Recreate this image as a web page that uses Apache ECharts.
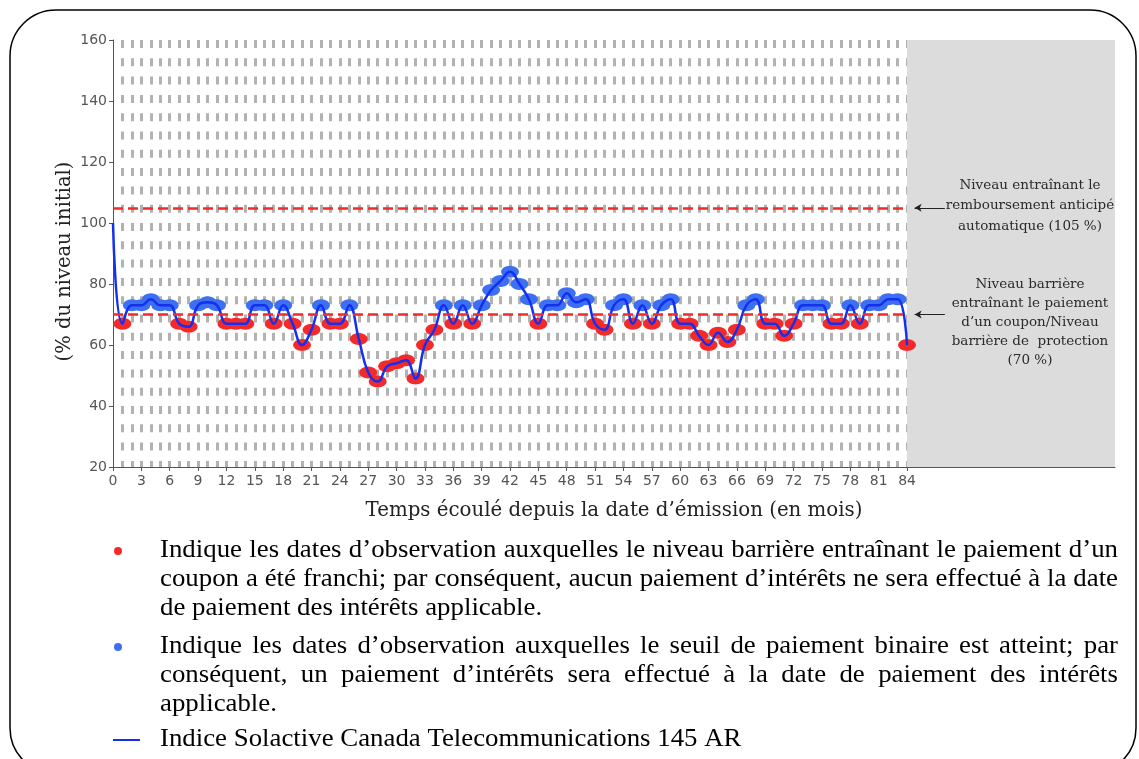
<!DOCTYPE html>
<html><head><meta charset="utf-8">
<script src="https://cdn.jsdelivr.net/npm/echarts@6/dist/echarts.min.js"></script>
<style>html,body{margin:0;padding:0;background:#fff}#c{width:1139px;height:759px}</style>
</head><body><div id="c"></div>
<script>
// ---- data ----
const months = [0,1,2,3,4,5,6,7,8,9,10,11,12,13,14,15,16,17,18,19,20,21,22,23,24,25,26,27,28,29,30,31,32,33,34,35,36,37,38,39,40,41,42,43,44,45,46,47,48,49,50,51,52,53,54,55,56,57,58,59,60,61,62,63,64,65,66,67,68,69,70,71,72,73,74,75,76,77,78,79,80,81,82,83,84];
const indexLevel = [100,
  67,73,73,75,73,73,67,66,73,74,
  73,67,67,67,73,73,67,73,67,60,
  65,73,67,67,73,62,51,48,53,54,
  55,49,60,65,73,67,73,67,73,78,
  81,84,80,75,67,73,73,77,74,75,
  67,65,73,75,67,73,67,73,75,67,
  67,63,60,64,61,65,73,75,67,67,
  63,67,73,73,73,67,67,73,67,73,
  73,75,75,60];
const autocallLevel = 105;
const barrierLevel = 70;
const xTickLabels = [0,3,6,9,12,15,18,21,24,27,30,33,36,39,42,45,48,51,54,57,60,63,66,69,72,75,78,81,84];
const yTickLabels = [20,40,60,80,100,120,140,160];
const xTitle = "Temps écoulé depuis la date d’émission (en mois)";
const yTitle = "(% du niveau initial)";
const note1 = ["Niveau entraînant le","remboursement anticipé","automatique (105 %)"];
const note2 = ["Niveau barrière","entraînant le paiement","d’un coupon/Niveau","barrière de  protection","(70 %)"];
const legendRed = ["Indique les dates d’observation auxquelles le niveau barrière entraînant le paiement d’un",
  "coupon a été franchi; par conséquent, aucun paiement d’intérêts ne sera effectué à la date",
  "de paiement des intérêts applicable."];
const legendBlue = ["Indique les dates d’observation auxquelles le seuil de paiement binaire est atteint; par",
  "conséquent, un paiement d’intérêts sera effectué à la date de paiement des intérêts",
  "applicable."];
const legendLine = "Indice Solactive Canada Telecommunications 145 AR";

// ---- derived ----
const linePts = months.map((m,i)=>[m, indexLevel[i]]);
const redPts = [], bluePts = [];
months.forEach((m,i)=>{ if(m===0) return; (indexLevel[i] < barrierLevel ? redPts : bluePts).push([m, indexLevel[i]]); });

const RED = '#f42a2a', BLUE = '#3d6ff2', LINE = '#1430ee';
const serifChart = '"DejaVu Serif", serif';
const FS = 24.5, SX = 1.095;
const legFont = FS + 'px "Liberation Serif"';
const mctx = document.createElement('canvas').getContext('2d');
mctx.font = legFont;

function textLine(str, x, y, justifyTo) {
  const els = [];
  if (!justifyTo) {
    els.push({type:'text', x, y, scaleX:SX, style:{text:str, font:legFont, fill:'#000', textVerticalAlign:'middle'}});
    return els;
  }
  const words = str.split(' ');
  const w = words.map(s=>mctx.measureText(s).width*SX);
  const tot = w.reduce((a,b)=>a+b,0);
  const gap = (justifyTo - x - tot)/(words.length-1);
  let cx = x;
  words.forEach((s,i)=>{
    els.push({type:'text', x:cx, y, scaleX:SX, style:{text:s, font:legFont, fill:'#000', textVerticalAlign:'middle'}});
    cx += w[i]+gap;
  });
  return els;
}

const graphics = [];
graphics.push({type:'rect', shape:{x:10,y:10,width:1126,height:764,r:46}, style:{fill:'none', stroke:'#000', lineWidth:1.5}, z:0});
note1.forEach((t,i)=>graphics.push({type:'text', x:1030, y:185+i*20.5, style:{text:t, font:'13.5px '+serifChart, fill:'#2a2a2a', textAlign:'center', textVerticalAlign:'middle'}, z:10}));
note2.forEach((t,i)=>graphics.push({type:'text', x:1030, y:284+i*19.2, style:{text:t, font:'13.5px '+serifChart, fill:'#2a2a2a', textAlign:'center', textVerticalAlign:'middle'}, z:10}));
const L0 = 160, L1 = 1118;
graphics.push({type:'circle', shape:{cx:118, cy:551, r:4}, style:{fill:RED}});
legendRed.forEach((t,i)=>textLine(t, L0, 551+i*28.6, i<legendRed.length-1 ? L1 : 0).forEach(e=>graphics.push(e)));
graphics.push({type:'circle', shape:{cx:118, cy:647, r:4}, style:{fill:BLUE}});
legendBlue.forEach((t,i)=>textLine(t, L0, 647+i*28.6, i<legendBlue.length-1 ? L1 : 0).forEach(e=>graphics.push(e)));
graphics.push({type:'line', shape:{x1:113,y1:740,x2:140,y2:740}, style:{stroke:LINE, lineWidth:2}});
textLine(legendLine, L0, 740, 0).forEach(e=>graphics.push(e));

const chart = echarts.init(document.getElementById('c'), null, {renderer:'canvas'});
chart.setOption({
  animation:false,
  backgroundColor:'#fff',
  grid:[
    {left:113, right:24, top:40, bottom:292, outerBoundsMode:'none'},
    {left:113, right:232, top:40, bottom:292, outerBoundsMode:'none'}
  ],
  xAxis:[
    {type:'value', gridIndex:0, min:0, max:106, interval:3,
     name:xTitle, nameLocation:'middle', nameGap:34, nameMoveOverlap:false,
     nameTextStyle:{fontFamily:serifChart, fontSize:19.8, color:'#222'},
     axisLine:{lineStyle:{color:'#555', width:1}},
     axisTick:{show:true, length:4, lineStyle:{color:'#555'}, customValues:xTickLabels},
     axisLabel:{color:'#555', fontFamily:'"DejaVu Sans"', fontSize:14, margin:7, customValues:xTickLabels,
       formatter:v=> v<=84 ? String(v) : ''},
     splitLine:{show:false}},
    {type:'value', gridIndex:1, min:0, max:84, interval:1,
     axisLine:{show:false}, axisTick:{show:false}, axisLabel:{show:false},
     splitLine:{show:true, showMinLine:false, lineStyle:{color:'#b2b2b2', width:3, type:[8,10.3]}}}
  ],
  yAxis:[
    {type:'value', gridIndex:0, min:20, max:160, interval:20,
     name:yTitle, nameLocation:'middle', nameGap:38, nameMoveOverlap:false,
     nameTextStyle:{fontFamily:serifChart, fontSize:19.5, color:'#222', padding:[0,16,0,0]},
     axisLine:{show:true, lineStyle:{color:'#555', width:1}},
     axisTick:{show:true, length:4, lineStyle:{color:'#555'}},
     axisLabel:{color:'#555', fontFamily:'"DejaVu Sans"', fontSize:14, margin:6},
     splitLine:{show:false}},
    {type:'value', gridIndex:1, min:20, max:160, show:false}
  ],
  graphic:{elements:graphics},
  series:[
    {type:'line', xAxisIndex:0, yAxisIndex:0, data:[], silent:true, z:1,
     markArea:{silent:true, itemStyle:{color:'#dcdcdc', opacity:1}, data:[[{xAxis:84, yAxis:20},{xAxis:106, yAxis:160}]]},
     markLine:{silent:true, symbol:['none','none'], label:{show:false},
       data:[
         [{coord:[0,autocallLevel], lineStyle:{color:RED, width:2.5, type:[10,5]}},{coord:[84,autocallLevel]}],
         [{coord:[0,barrierLevel], lineStyle:{color:RED, width:2.5, type:[10,5]}},{coord:[84,barrierLevel]}],
         [{coord:[88,autocallLevel], symbol:'none', lineStyle:{color:'#222', width:1, type:'solid'}},{coord:[84.8,autocallLevel], symbol:'arrow', symbolSize:[6,7]}],
         [{coord:[88,barrierLevel], symbol:'none', lineStyle:{color:'#222', width:1, type:'solid'}},{coord:[84.8,barrierLevel], symbol:'arrow', symbolSize:[6,7]}]
       ]}},
    {type:'scatter', xAxisIndex:0, yAxisIndex:0, data:redPts, symbol:'circle', symbolSize:[18,12], itemStyle:{color:RED, opacity:1}, z:3, silent:true},
    {type:'scatter', xAxisIndex:0, yAxisIndex:0, data:bluePts, symbol:'circle', symbolSize:[18,12], itemStyle:{color:BLUE, opacity:1}, z:3, silent:true},
    {type:'line', xAxisIndex:0, yAxisIndex:0, data:linePts, smooth:0.45, showSymbol:false, symbol:'none',
     lineStyle:{color:LINE, width:2.5}, z:4, silent:true}
  ]
});
</script></body></html>
